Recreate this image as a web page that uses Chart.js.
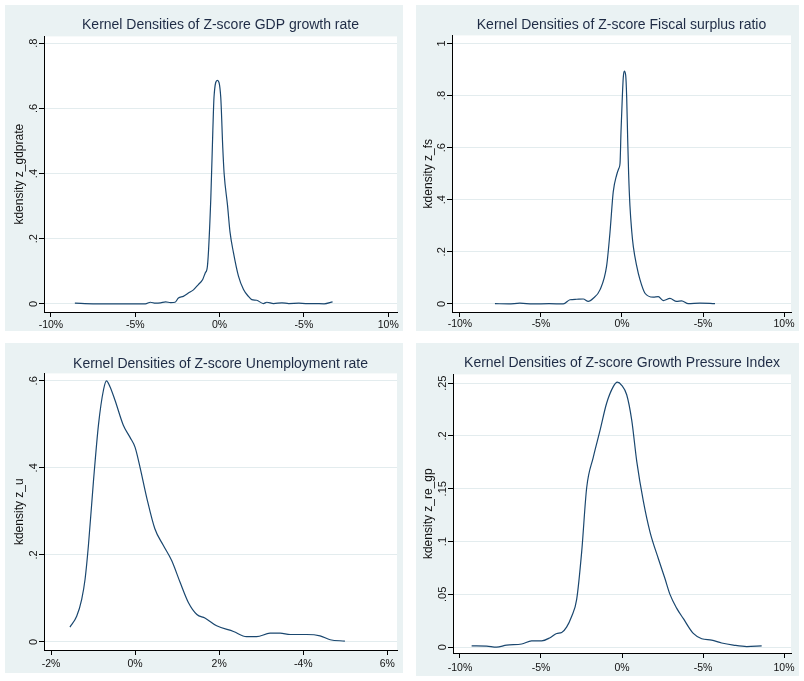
<!DOCTYPE html>
<html>
<head>
<meta charset="utf-8">
<title>Kernel Densities of Z-scores</title>
<script src="https://cdn.jsdelivr.net/npm/chart.js@4.4.1/dist/chart.umd.min.js"></script>
<style>
    body { margin: 0; background: #fff; width: 804px; height: 681px; position: relative; overflow: hidden; }
    .panel { position: absolute; background: #eaf2f3; }
    .panel canvas { display: block; }
</style>
</head>
<body>
<div class="panel" style="left:5px;top:5px;width:398px;height:326px"><canvas id="gdpChart" width="398" height="326"></canvas></div>
<div class="panel" style="left:416px;top:5px;width:383px;height:326px"><canvas id="fsChart" width="383" height="326"></canvas></div>
<div class="panel" style="left:5px;top:343px;width:398px;height:330px"><canvas id="unChart" width="398" height="330"></canvas></div>
<div class="panel" style="left:416px;top:343px;width:383px;height:333px"><canvas id="gpChart" width="383" height="333"></canvas></div>

<script>
// --- Data ---
const gdpX = [-8.58, -7.5, -6.0, -4.4, -4.1, -3.8, -3.5, -3.2, -2.9, -2.64, -2.44, -2.15, -1.85, -1.55, -1.26, -1.0, -0.85, -0.72, -0.52, -0.40, -0.33, -0.13, 0.07, 0.19, 0.27, 0.47, 0.62, 0.82, 1.12, 1.42, 1.71, 1.91, 2.2, 2.6, 2.8, 3.2, 3.7, 4.1, 4.7, 5.1, 5.6, 6.2, 6.7];
const gdpY = [0.002, 0, 0, 0, 0.005, 0.002, 0.003, 0.006, 0.004, 0.005, 0.018, 0.023, 0.033, 0.043, 0.059, 0.075, 0.095, 0.116, 0.323, 0.531, 0.634, 0.686, 0.634, 0.479, 0.40, 0.303, 0.22, 0.158, 0.085, 0.044, 0.023, 0.013, 0.011, 0.001, 0.005, 0.001, 0.003, 0.001, 0.002, 0.001, 0.001, 0.0, 0.006];

const fsX = [-7.84, -7.0, -6.3, -5.5, -4.5, -3.62, -3.21, -2.80, -2.39, -2.08, -1.77, -1.36, -0.95, -0.74, -0.54, -0.33, -0.19, -0.12, -0.06, 0.02, 0.08, 0.14, 0.23, 0.29, 0.35, 0.41, 0.49, 0.60, 0.70, 0.91, 1.11, 1.42, 1.93, 2.24, 2.55, 2.96, 3.37, 3.68, 4.09, 4.81, 5.74];
const fsY = [0.001, 0.0, 0.003, 0.0, 0.001, 0.0, 0.016, 0.018, 0.019, 0.01, 0.022, 0.054, 0.145, 0.275, 0.43, 0.495, 0.521, 0.54, 0.663, 0.793, 0.87, 0.894, 0.877, 0.793, 0.637, 0.5, 0.378, 0.28, 0.22, 0.145, 0.093, 0.041, 0.026, 0.028, 0.013, 0.021, 0.01, 0.012, 0.001, 0.003, 0.001];

const unX = [-1.55, -1.39, -1.27, -1.19, -1.11, -0.99, -0.87, -0.75, -0.68, -0.60, -0.48, -0.28, -0.12, 0.00, 0.12, 0.28, 0.47, 0.67, 0.87, 1.07, 1.27, 1.47, 1.66, 1.94, 2.34, 2.65, 2.89, 3.21, 3.45, 3.69, 4.08, 4.40, 4.64, 4.99];
const unY = [0.034, 0.059, 0.098, 0.144, 0.222, 0.37, 0.50, 0.58, 0.60, 0.587, 0.556, 0.498, 0.47, 0.447, 0.40, 0.33, 0.26, 0.222, 0.187, 0.137, 0.09, 0.063, 0.055, 0.037, 0.024, 0.012, 0.012, 0.02, 0.02, 0.017, 0.017, 0.014, 0.005, 0.002];

const gpX = [-9.28, -8.35, -7.74, -7.12, -6.19, -5.58, -4.96, -4.44, -4.03, -3.72, -3.42, -3.11, -2.80, -2.49, -2.18, -1.77, -1.36, -0.95, -0.53, -0.29, -0.02, 0.29, 0.60, 0.91, 1.32, 1.73, 2.24, 2.65, 2.96, 3.37, 3.79, 4.40, 4.92, 5.53, 6.15, 6.87, 7.70, 8.62];
const gpY = [0.0013, 0.001, 0.0, 0.002, 0.003, 0.006, 0.006, 0.009, 0.013, 0.014, 0.019, 0.029, 0.045, 0.09, 0.151, 0.18, 0.205, 0.231, 0.247, 0.251, 0.248, 0.239, 0.215, 0.176, 0.138, 0.109, 0.084, 0.065, 0.05, 0.037, 0.027, 0.013, 0.008, 0.0067, 0.004, 0.002, 0.0006, 0.0013];

// --- Tick values and their labels (as printed on the original) ---
const pctTicks = [-10, -5, 0, 5, 10];
const pctLabels = ['-10%', '-5%', '0%', '-5%', '10%'];
const unTicks = [-2, 0, 2, 4, 6];
const unLabels = ['-2%', '0%', '2%', '-4%', '6%'];

const gdpYTicks = [0, 0.2, 0.4, 0.6, 0.8];
const gdpYLabels = ['0', '.2', '.4', '.6', '.8'];
const fsYTicks = [0, 0.2, 0.4, 0.6, 0.8, 1];
const fsYLabels = ['0', '.2', '.4', '.6', '.8', '1'];
const unYTicks = [0, 0.2, 0.4, 0.6];
const unYLabels = ['0', '.2', '.4', '.6'];
const gpYTicks = [0, 0.05, 0.1, 0.15, 0.2, 0.25];
const gpYLabels = ['0', '.05', '.1', '.15', '.2', '.25'];

const FONT = "'Liberation Sans', Arial, sans-serif";

// white plot region on the blue-grey panel
const plotBg = {
    id: 'plotBg',
    beforeDraw(chart) {
        const a = chart.chartArea;
        chart.ctx.save();
        chart.ctx.fillStyle = '#ffffff';
        chart.ctx.fillRect(a.left, a.top, a.right - a.left, a.bottom - a.top);
        chart.ctx.restore();
    }
};

function makePanel(id, p) {
    new Chart(document.getElementById(id), {
        type: 'scatter',
        data: {
            datasets: [{
                data: p.xs.map((x, i) => ({ x: x, y: p.ys[i] })),
                showLine: true,
                borderColor: '#1a476f',
                borderWidth: 1.2,
                pointRadius: 0,
                tension: 0.4,
                cubicInterpolationMode: 'monotone',
                fill: false
            }]
        },
        options: {
            responsive: false,
            animation: false,
            devicePixelRatio: 1,
            layout: { padding: { left: 0, right: p.padRight, top: 0, bottom: 0 } },
            plugins: {
                legend: { display: false },
                tooltip: { enabled: false },
                title: {
                    display: true,
                    text: p.title,
                    fullSize: false,
                    color: '#1e2b45',
                    font: { family: FONT, size: 14, weight: 'normal', lineHeight: 1.2 },
                    padding: { top: p.titleTop, bottom: p.titleBottom }
                }
            },
            scales: {
                x: {
                    type: 'linear',
                    min: p.xMin, max: p.xMax,
                    afterBuildTicks: s => { s.ticks = p.xTicks.map(v => ({ value: v })); },
                    afterFit: s => { s.height = p.xHeight; },
                    ticks: {
                        autoSkip: false,
                        maxRotation: 0,
                        padding: p.xTickPad,
                        color: '#111',
                        font: { family: FONT, size: 10.5 },
                        callback: (v, i) => p.xLabels[i]
                    },
                    grid: { drawOnChartArea: false, color: '#000', tickColor: '#000', tickLength: 5 },
                    border: { display: true, color: '#000', width: 1 }
                },
                y: {
                    type: 'linear',
                    min: p.yMin, max: p.yMax,
                    afterBuildTicks: s => { s.ticks = p.yTicks.map(v => ({ value: v })); },
                    afterFit: s => { s.width = p.yWidth; },
                    title: {
                        display: true,
                        text: p.yTitle,
                        color: '#111',
                        font: { family: FONT, size: 12, lineHeight: 1.2 },
                        padding: { top: p.yTitlePad, bottom: 0 }
                    },
                    ticks: {
                        autoSkip: false,
                        minRotation: 90,
                        maxRotation: 90,
                        crossAlign: 'center',
                        padding: p.yTickPad,
                        color: '#111',
                        font: { family: FONT, size: 11 },
                        callback: (v, i) => p.yLabels[i]
                    },
                    grid: { color: '#e3ecee', tickColor: '#000', tickLength: 5 },
                    border: { display: true, color: '#000', width: 1 }
                }
            }
        },
        plugins: [plotBg]
    });
}

// --- 1. GDP growth rate ---
makePanel('gdpChart', {
    title: 'Kernel Densities of Z-score GDP growth rate', yTitle: 'kdensity z_gdprate',
    xs: gdpX, ys: gdpY,
    xMin: -10.41, xMax: 10.52, yMin: -0.025, yMax: 0.821,
    xTicks: pctTicks, xLabels: pctLabels, yTicks: gdpYTicks, yLabels: gdpYLabels,
    padRight: 6, yWidth: 39, xHeight: 19, titleTop: 11.8, titleBottom: 2.8,
    yTitlePad: 7.8, yTickPad: 0.4, xTickPad: 1.7
});

// --- 2. Fiscal surplus ratio ---
makePanel('fsChart', {
    title: 'Kernel Densities of Z-score Fiscal surplus ratio', yTitle: 'kdensity z_fs',
    xs: fsX, ys: fsY,
    xMin: -10.49, xMax: 10.43, yMin: -0.031, yMax: 1.031,
    xTicks: pctTicks, xLabels: pctLabels, yTicks: fsYTicks, yLabels: fsYLabels,
    padRight: 8, yWidth: 36, xHeight: 19, titleTop: 11.8, titleBottom: 1.8,
    yTitlePad: 5.8, yTickPad: 0.4, xTickPad: 0.5
});

// --- 3. Unemployment rate ---
makePanel('unChart', {
    title: 'Kernel Densities of Z-score Unemployment rate', yTitle: 'kdensity z_u',
    xs: unX, ys: unY,
    xMin: -2.167, xMax: 6.23, yMin: -0.0186, yMax: 0.617,
    xTicks: unTicks, xLabels: unLabels, yTicks: unYTicks, yLabels: unYLabels,
    padRight: 6, yWidth: 39, xHeight: 23, titleTop: 12.8, titleBottom: 0.8,
    yTitlePad: 7.8, yTickPad: 0.4, xTickPad: 2.7
});

// --- 4. Growth Pressure Index ---
makePanel('gpChart', {
    title: 'Kernel Densities of Z-score Growth Pressure Index', yTitle: 'kdensity z_re_gp',
    xs: gpX, ys: gpY,
    xMin: -10.43, xMax: 10.43, yMin: -0.0055, yMax: 0.2583,
    xTicks: pctTicks, xLabels: pctLabels, yTicks: gpYTicks, yLabels: gpYLabels,
    padRight: 8, yWidth: 37, xHeight: 23, titleTop: 11.8, titleBottom: 2.8,
    yTitlePad: 5.8, yTickPad: -2.6, xTickPad: 3.7
});
</script>
</body>
</html>
